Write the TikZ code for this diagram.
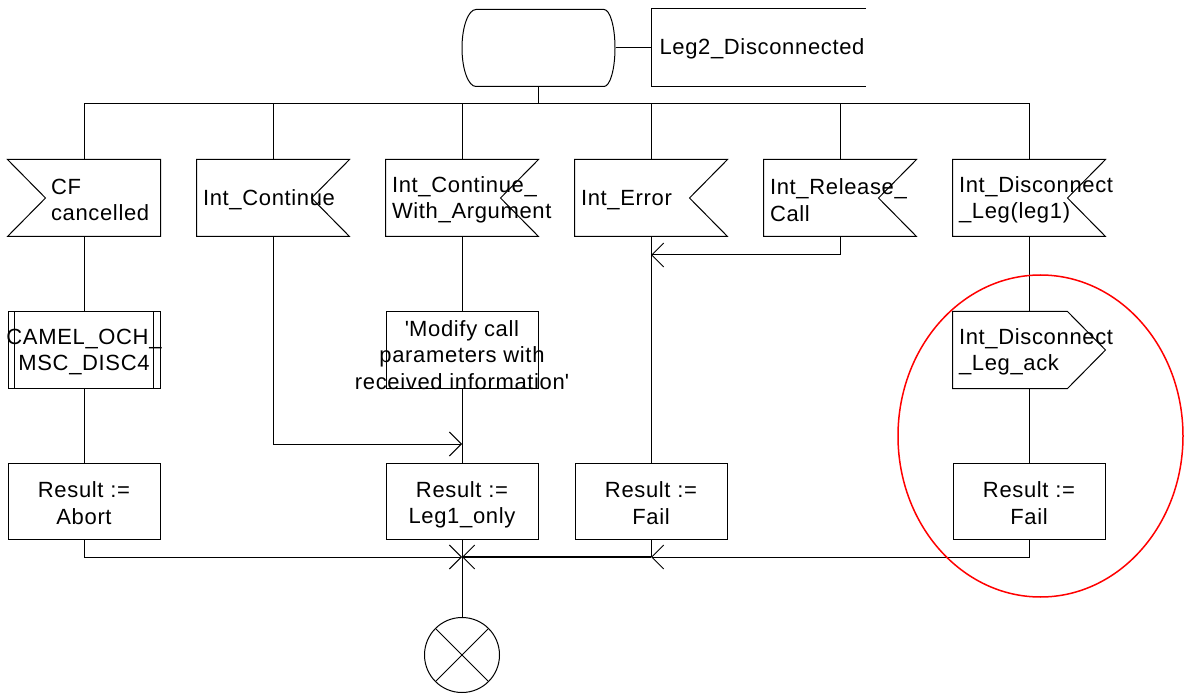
\documentclass[tikz,border=0pt]{standalone}
\usepackage{fontspec}
\setmainfont{Liberation Sans}[LetterSpace=3]
\usetikzlibrary{calc,arrows.meta}
\begin{document}
\begin{tikzpicture}[x=1pt,y=-1pt,line width=1pt,
  every node/.style={font=\fontsize{22}{26.5}\selectfont},
  box/.style={draw=none,minimum width=152pt,minimum height=76pt,inner sep=0pt},
  framed/.style={box,draw},
  txt/.style={inner sep=0pt,align=left,anchor=west,yshift=-2pt},
  ctxt/.style={inner sep=0pt,align=center,yshift=-2pt},
  arr/.style={-{Straight Barb[length=12pt,width=24pt,line width=1pt]}},
  heavy/.style={line width=1.8pt}]
\useasboundingbox (0,0) rectangle (1187,695);

% start state
\node[draw=none,minimum width=153pt,minimum height=77pt,inner sep=0pt] (st) at (538.5,48) {};
\draw (476,9.5) -- (604,9.5) arc[start angle=-90,end angle=90,x radius=11,y radius=38.5]
      -- (476,86.5) arc[start angle=90,end angle=270,x radius=14,y radius=38.5] -- cycle;
\node[draw=none,minimum width=214pt,minimum height=77pt,inner sep=0pt,anchor=west] (lb) at (651,48) {};
\draw (lb.north east) -- (lb.north west) -- (lb.south west) -- (lb.south east);
\node[txt,yshift=1pt] (lbt) at ($(lb.west)+(8,0)$) {Leg2\_Disconnected};
\draw (st.east) -- (lb.west);

% signals
\node[box] (cf)  at (84,198) {};
\node[box] (ic)  at (273,198) {};
\node[box] (ica) at (462,198) {};
\node[box] (ie)  at (651,198) {};
\node[box] (irc) at (840,198) {};
\node[box] (idl) at (1029,198) {};
\draw (cf.north west) -- (cf.north east) -- (cf.south east) -- (cf.south west) -- ($(cf.west)+(38,0)$) -- cycle;
\foreach \n in {ic,ica,ie,irc,idl}{
  \draw (\n.north west) -- (\n.north east) -- ($(\n.east)+(-38,0)$) -- (\n.south east) -- (\n.south west) -- cycle;
}
\node[txt] at ($(cf.west)+(43,0)$) {CF\\cancelled};
\node[txt] at ($(ic.west)+(6,0)$) {Int\_Continue};
\node[txt] at ($(ica.west)+(6,0)$) {Int\_Continue\_\\With\_Argument};
\node[txt] at ($(ie.west)+(6,0)$) {Int\_Error};
\node[txt] at ($(irc.west)+(6,0)$) {Int\_Release\_\\Call};
\node[txt] at ($(idl.west)+(6,0)$) {Int\_Disconnect\\\_Leg(leg1)};

% second row
\node[framed] (cam) at (84,350) {};
\draw ($(cam.north west)+(7,0)$) -- ($(cam.south west)+(7,0)$);
\draw ($(cam.north east)+(-7,0)$) -- ($(cam.south east)+(-7,0)$);
\node[ctxt] at (cam.center) {CAMEL\_OCH\_\\MSC\_DISC4};
\node[framed] (mod) at (462,350) {};
\node[ctxt,yshift=-3pt] at (mod.center) {\textquotesingle Modify call\\parameters with\\received information\textquotesingle};
\node[box] (ack) at (1029,350) {};
\draw (ack.north west) -- ($(ack.north east)+(-38,0)$) -- (ack.east) -- ($(ack.south east)+(-38,0)$) -- (ack.south west) -- cycle;
\node[txt] at ($(ack.west)+(6,0)$) {Int\_Disconnect\\\_Leg\_ack};

% results
\node[framed] (ra) at (84,501) {};
\node[ctxt] at (ra.center) {Result :=\\Abort};
\node[framed] (rl) at (462,501) {};
\node[ctxt,yshift=-2pt] at (rl.center) {Result :=\\Leg1\_only};
\node[framed] (rf) at (651,501) {};
\node[ctxt] at (rf.center) {Result :=\\Fail};
\node[framed] (rf2) at (1029,501) {};
\node[ctxt] at (rf2.center) {Result :=\\Fail};

% terminator
\node[draw,circle,minimum size=75pt,inner sep=0pt] (term) at (462,655) {};
\draw (term.north west) -- (term.south east) (term.north east) -- (term.south west);

% connectors
\coordinate (b0) at (538.5,104);
\draw[heavy] (st.south) -- (b0);
\draw (b0) -| (cf.north);
\draw (b0) -| (idl.north);
\foreach \n in {ic,ica,ie,irc}{ \draw (\n.north |- b0) -- (\n.north); }

\draw (cf.south) -- (cam.north);
\draw (cam.south) -- (ra.north);
\draw (ica.south) -- (mod.north);
\draw (mod.south) -- (rl.north);
\draw (ie.south) -- (rf.north);
\draw (idl.south) -- (ack.north);
\draw (ack.south) -- (rf2.north);

\coordinate (c1) at (462,444);
\coordinate (c2) at (651,255);
\draw[arr] (ic.south) |- (c1);
\draw[arr] (irc.south) |- (c2);

\coordinate (m1) at (462,557);
\coordinate (m2) at (651,557);
\draw[arr] (ra.south) |- (m1);
\draw (rf.south) -- (m2);
\draw[arr,heavy] (m2) -- (m1);
\draw[arr] (rf2.south) |- (m2);
\draw (rl.south) -- (term.north);

% highlight
\draw[red,line width=1.5pt] (1040.5,436) ellipse [x radius=142.5,y radius=161];
\end{tikzpicture}
\end{document}
